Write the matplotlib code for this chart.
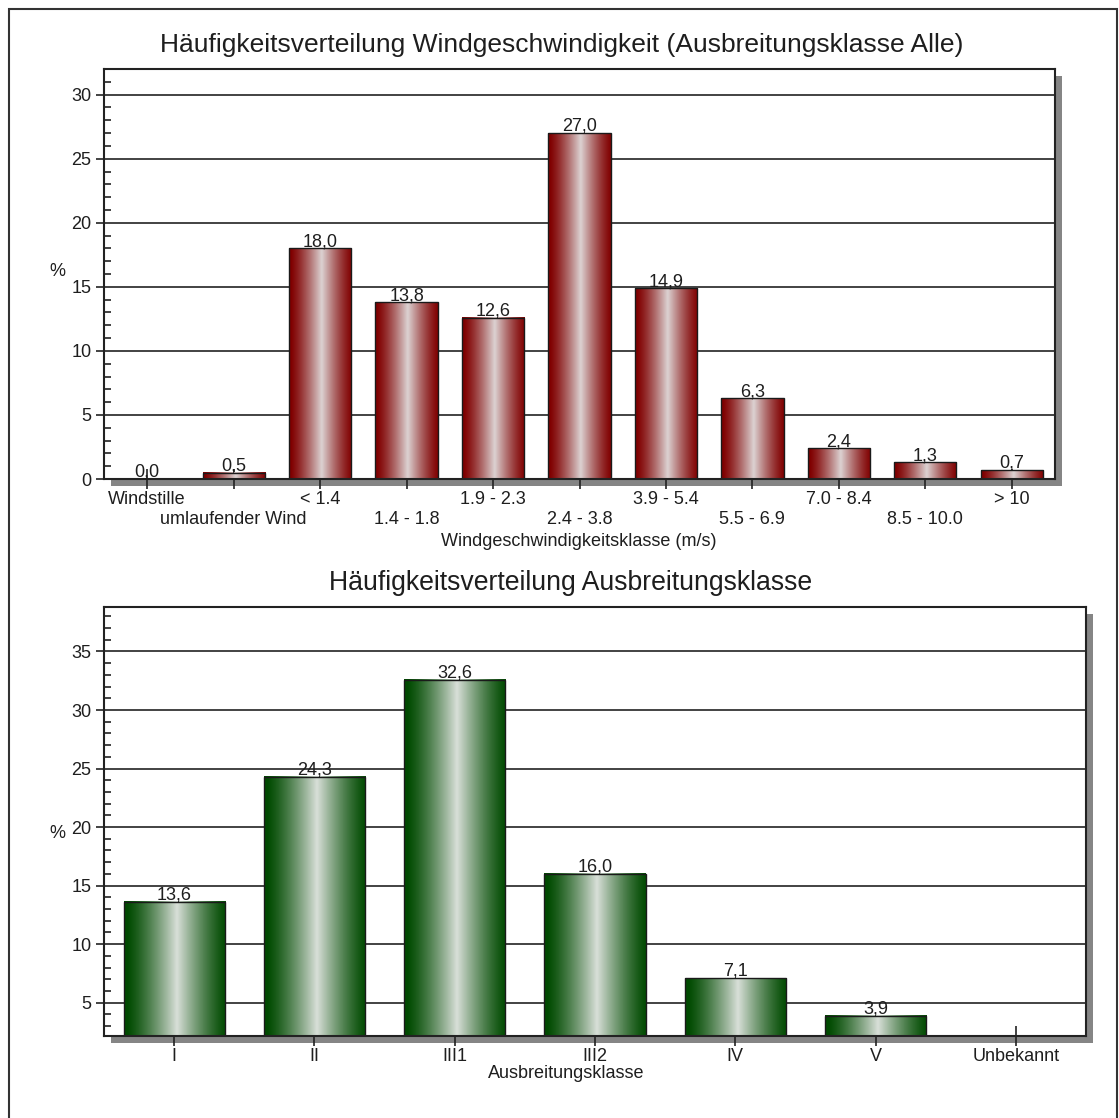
import numpy as np
import matplotlib
matplotlib.use("Agg")
import matplotlib.pyplot as plt
from matplotlib.patches import Rectangle
from matplotlib.colors import LinearSegmentedColormap
from matplotlib.ticker import MultipleLocator

plt.rcParams['font.family'] = ['Liberation Sans', 'DejaVu Sans']

# data
wind_classes = ["Windstille", "umlaufender Wind", "< 1.4", "1.4 - 1.8", "1.9 - 2.3",
                "2.4 - 3.8", "3.9 - 5.4", "5.5 - 6.9", "7.0 - 8.4", "8.5 - 10.0", "> 10"]
wind_pct = [0.0, 0.5, 18.0, 13.8, 12.6, 27.0, 14.9, 6.3, 2.4, 1.3, 0.7]

stab_classes = ["I", "II", "III1", "III2", "IV", "V", "Unbekannt"]
stab_pct = [13.6, 24.3, 32.6, 16.0, 7.1, 3.9, 0.0]

W, H = 1119, 1118
TXT = '#1e1e1e'
FS = 13
fig = plt.figure(figsize=(W / 100, H / 100), dpi=100)


def px_box(l, t, r, b):
    return [l / W, 1 - b / H, (r - l) / W, (b - t) / H]


def shadow(l, t, r, b, off=7):
    fig.add_artist(Rectangle(((l + off) / W, 1 - (b + off) / H), (r - l) / W, (b - t) / H,
                             transform=fig.transFigure, facecolor='#858585',
                             edgecolor='none', zorder=-1))


def gradient_bars(ax, values, dark, light, width=0.72):
    cmap = LinearSegmentedColormap.from_list('g', [dark, light])
    s = np.linspace(0, 1, 128)
    prof = (1 - np.abs(2 * s - 1.04).clip(0, 1)) ** 1.3
    prof = prof[np.newaxis, :]
    xs = np.arange(len(values))
    for x, v in zip(xs, values):
        if v <= 0:
            continue
        ax.imshow(prof, extent=(x - width / 2, x + width / 2, 0, v), aspect='auto',
                  cmap=cmap, vmin=0, vmax=1, zorder=2, interpolation='bilinear')
    ax.bar(xs, values, width=width, facecolor='none', edgecolor='#1a1a1a',
           linewidth=1.0, zorder=2.2)


def style_axes(ax, ylim, majors, ncat):
    ax.set_xlim(-0.5, ncat - 0.5)
    ax.set_ylim(*ylim)
    ax.set_yticks(majors)
    ax.yaxis.set_minor_locator(MultipleLocator(1))
    for y in majors:
        ax.axhline(y, color='#222222', lw=1.2, zorder=1)
    for sp in ax.spines.values():
        sp.set_linewidth(1.5)
        sp.set_color('#222222')
    ax.tick_params(axis='y', which='major', direction='out', length=6, width=1.2,
                   pad=3, labelsize=FS, colors='#222222', labelcolor=TXT)
    ax.tick_params(axis='y', which='minor', direction='in', length=5, width=1.2,
                   colors='#222222')
    ax.tick_params(axis='x', which='major', direction='inout', length=15, width=1.2,
                   pad=1, labelsize=FS, colors='#222222', labelcolor=TXT)


def value_labels(ax, values, ymin):
    for x, v in enumerate(values):
        if v < ymin:
            continue
        ax.annotate(f"{v:.1f}".replace('.', ','), (x, v), xytext=(0, 1.5),
                    textcoords='offset points', ha='center', va='baseline',
                    fontsize=FS, color=TXT, zorder=4)


# outer frame
fig.add_artist(Rectangle((9 / W, -0.02), (1117 - 9) / W, (1118 - 9) / H + 0.02,
                         transform=fig.transFigure, fill=False, edgecolor='#333333',
                         linewidth=1.5, zorder=-2))

# --- top chart: wind speed classes ---
top = (104, 69, 1055, 479)
shadow(*top)
ax1 = fig.add_axes(px_box(*top))
gradient_bars(ax1, wind_pct, '#800000', '#dcd2d2')
style_axes(ax1, (0, 32), list(range(0, 31, 5)), len(wind_classes))
ax1.set_xticks(range(len(wind_classes)))
ax1.set_xticklabels(wind_classes)
for i, t in enumerate(ax1.xaxis.get_major_ticks()):
    if i % 2 == 1:
        t.set_pad(15.5)
value_labels(ax1, wind_pct, 0)

fig.text(562 / W, 1 - 45 / H, "Häufigkeitsverteilung Windgeschwindigkeit (Ausbreitungsklasse Alle)",
         ha='center', va='center', fontsize=19, color=TXT)
fig.text(57 / W, 1 - 272 / H, "%", ha='center', va='center', fontsize=FS, color=TXT)
fig.text(579 / W, 1 - 541 / H, "Windgeschwindigkeitsklasse (m/s)", ha='center',
         va='center', fontsize=FS, color=TXT)

# --- bottom chart: stability classes ---
bot = (104, 607, 1086, 1036)
shadow(*bot)
ax2 = fig.add_axes(px_box(*bot))
gradient_bars(ax2, stab_pct, '#004a00', '#d8dfd8')
style_axes(ax2, (2.15, 38.8), list(range(5, 36, 5)), len(stab_classes))
ax2.set_xticks(range(len(stab_classes)))
ax2.set_xticklabels(stab_classes)
value_labels(ax2, stab_pct, 2.15)

fig.text(571 / W, 1 - 583 / H, "Häufigkeitsverteilung Ausbreitungsklasse",
         ha='center', va='center', fontsize=19.2, color=TXT)
fig.text(57 / W, 1 - 833 / H, "%", ha='center', va='center', fontsize=FS, color=TXT)
fig.text(566 / W, 1 - 1074 / H, "Ausbreitungsklasse", ha='center', va='center',
         fontsize=FS, color=TXT)

fig.savefig("out.png", dpi=100)
